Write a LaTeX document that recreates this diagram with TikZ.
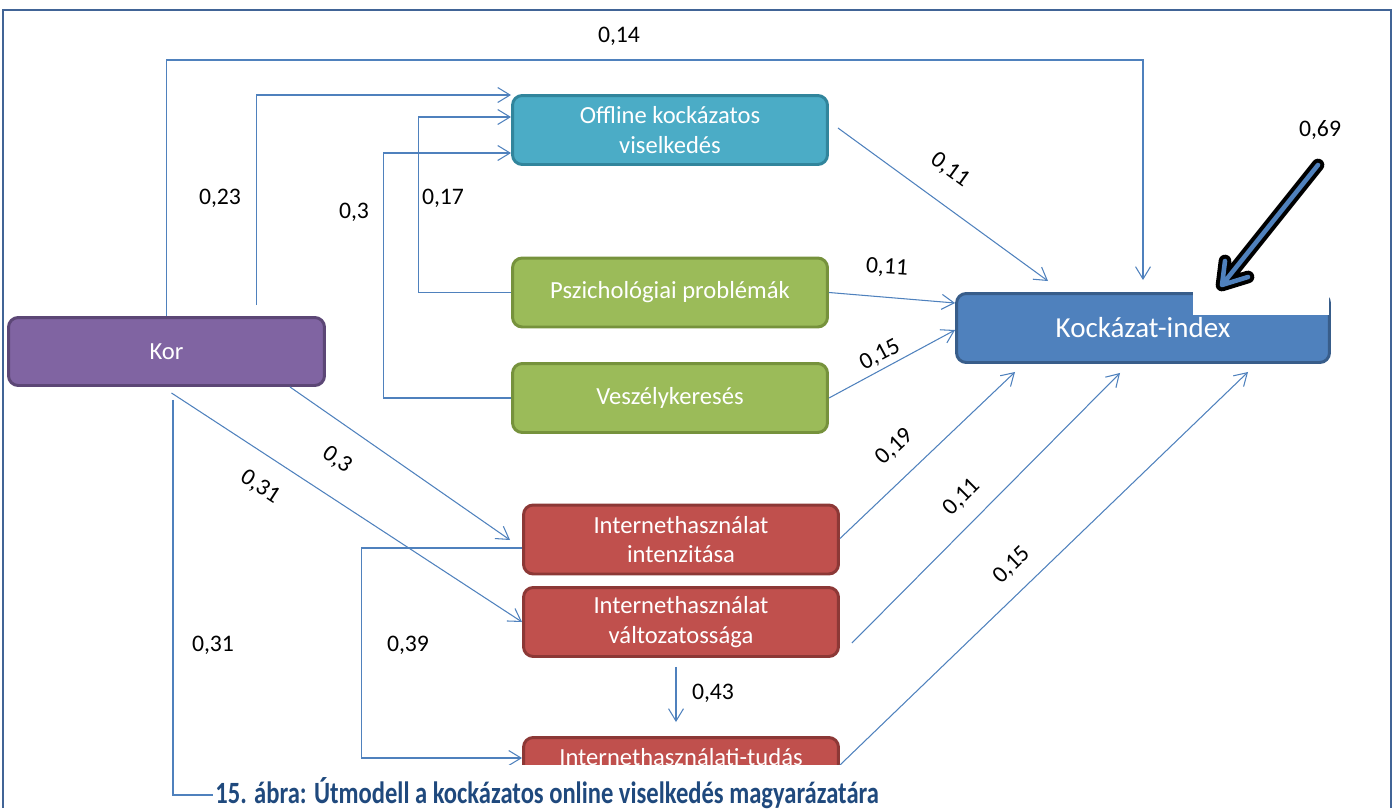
\documentclass[tikz,border=0pt]{standalone}
\usepackage{fontspec}
\setmainfont{Carlito}
\usetikzlibrary{arrows.meta}
\definecolor{linkblue}{RGB}{79,129,189}
\definecolor{framecol}{RGB}{65,100,150}
\definecolor{korfill}{RGB}{128,100,162}
\definecolor{kordraw}{RGB}{92,71,118}
\definecolor{offfill}{RGB}{75,172,198}
\definecolor{offdraw}{RGB}{49,133,156}
\definecolor{grnfill}{RGB}{155,187,89}
\definecolor{grndraw}{RGB}{118,146,60}
\definecolor{redfill}{RGB}{192,80,77}
\definecolor{reddraw}{RGB}{140,56,54}
\definecolor{idxfill}{RGB}{79,129,189}
\definecolor{idxdraw}{RGB}{56,93,138}
\definecolor{capcol}{RGB}{31,73,125}
\tikzset{
  box/.style={rounded corners=5.5pt,line width=1.7pt,text=white,align=center,inner sep=0pt,
    minimum width=6.3cm,minimum height=1.38cm,font=\fontsize{14pt}{17pt}\selectfont},
  korbox/.style={box,fill=korfill,draw=kordraw,minimum width=6.32cm,minimum height=1.36cm},
  offbox/.style={box,fill=offfill,draw=offdraw},
  grnbox/.style={box,fill=grnfill,draw=grndraw},
  redbox/.style={box,fill=redfill,draw=reddraw},
  idxbox/.style={box,fill=idxfill,draw=idxdraw,minimum width=7.46cm,font=\fontsize{16.5pt}{20pt}\selectfont},
  link/.style={draw=linkblue,line width=0.6pt,-{Straight Barb[length=7pt,width=8.5pt]}},
  coef/.style={font=\fontsize{13.5pt}{16pt}\selectfont,inner sep=0pt},
  bigout/.style={draw=black,line width=7.2pt,line cap=round,line join=round},
  bigin/.style={draw=linkblue,line width=2.6pt,line cap=round,line join=round},
  caption/.style={text=capcol,inner sep=0pt,font=\fontsize{17.6pt}{20pt}\selectfont\bfseries}
}
\begin{document}
\begin{tikzpicture}[x=0.02cm,y=-0.02cm]
\useasboundingbox (0,0) rectangle (1396,808);
\draw[framecol,line width=1.2pt] (3,808) -- (3,10) -- (1391,10) -- (1391,808);

\node[korbox] (kor) at (166.5,351.5) {Kor};
\node[offbox] (offline) at (670,130) {Offline kockázatos\\viselkedés};
\node[grnbox] (pszich) at (670,292.5) {Pszichológiai problémák};
\node[grnbox] (vesz) at (670,398) {Veszélykeresés};
\node[redbox] (intenz) at (681,539.5) {Internethasználat\\intenzitása};
\node[redbox] (valtoz) at (681,622) {Internethasználat\\változatossága};
\node[redbox] (tudas) at (681,772) {Internethasználati-tudás\\};
\node[idxbox] (index) at (1143,328) {Kockázat-index};

\draw[link] (kor.north) |- (index.north |- 0,60) -- ([shift={(0,-12)}]index.north);
\draw[link] ([shift={(90,-11)}]kor.north) |- ([shift={(0,-35)}]offline.west);
\draw[link] (pszich.west) -- ++(-93,0) |- ([shift={(0,-13)}]offline.west);
\draw[link] (vesz.west) -- ++(-128,0) |- ([shift={(0,23)}]offline.west);
\draw[link] ([shift={(9,-2)}]offline.east) -- ([shift={(-95,-11)}]index.north);
\draw[link] (pszich.east) -- ([shift={(0,-25)}]index.west);
\draw[link] (vesz.east) -- ([shift={(0,2)}]index.west);
\draw[link] ([shift={(0,-1)}]intenz.east) -- ([shift={(-128,8)}]index.south);
\draw[link] ([shift={(12,21)}]valtoz.east) -- ([shift={(-23,9)}]index.south);
\draw[link] ([shift={(0,-7)}]tudas.east) -- ([shift={(105,8)}]index.south);
\draw[link] ([shift={(123.5,0)}]kor.south) -- ([shift={(-12,0.5)}]intenz.west);
\draw[link] ([shift={(5,6)}]kor.south) -- (valtoz.west);
\draw[link] ([shift={(6.5,13)}]kor.south) |- ([shift={(0,23)}]tudas.west);
\draw[link] ([shift={(0,8.5)}]intenz.west) -- ++(-161,0) |- ([shift={(0,-14)}]tudas.west);
\draw[link] ([shift={(-5,9)}]valtoz.south) -- ([shift={(-5,-14)}]tudas.north);

\node[coef] (l014) at (619,36) {0,14};
\node[coef] (l023) at (220,198) {0,23};
\node[coef] (l017) at (443,198) {0,17};
\node[coef] (l03a) at (354,212) {0,3};
\node[coef,rotate=-36] (l011a) at (950,170) {0,11};
\node[coef,rotate=-4] (l011b) at (887,268) {0,11};
\node[coef,rotate=28] (l015a) at (880,355) {0,15};
\node[coef,rotate=43] (l019) at (895,447) {0,19};
\node[coef,rotate=45] (l011c) at (962,497) {0,11};
\node[coef,rotate=44] (l015b) at (1012,565) {0,15};
\node[coef,rotate=-35] (l03b) at (337,460) {0,3};
\node[coef,rotate=-33] (l031a) at (260,487) {0,31};
\node[coef] (l031b) at (213,645) {0,31};
\node[coef] (l039) at (408,645) {0,39};
\node[coef] (l043) at (713,693) {0,43};
\node[coef] (l069) at (1320,130) {0,69};

\fill[white] (1193,289) rectangle (1329,315);
\coordinate (errsrc) at (1318,165);
\coordinate (errtip) at (1222,285);
\draw[bigout] (errsrc) -- (errtip) -- ++(3,-24) (errtip) -- ++(26,-8);
\draw[bigin] (errsrc) -- (errtip) -- ++(3,-24) (errtip) -- ++(26,-8);

\fill[white] (213,765) rectangle (1385,808);
\node[caption,anchor=base west] (cap) at (215,803) {\scalebox{0.795}[1]{15. ábra: Útmodell a kockázatos online viselkedés magyarázatára}};
\end{tikzpicture}
\end{document}
